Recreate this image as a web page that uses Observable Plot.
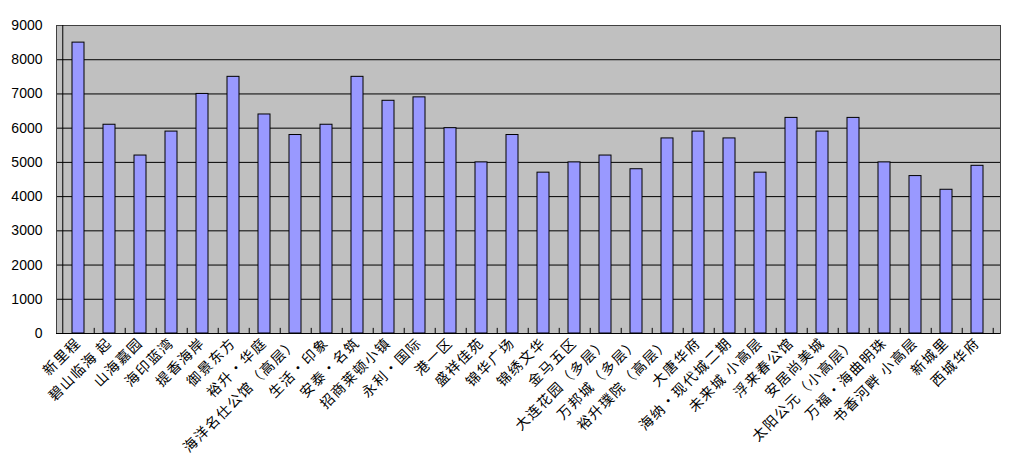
<!DOCTYPE html>
<html><head><meta charset="utf-8">
<script src="https://cdn.jsdelivr.net/npm/d3@7"></script>
<script src="https://cdn.jsdelivr.net/npm/@observablehq/plot@0.6"></script>
<style>
html,body{margin:0;padding:0;background:#fff;}
#chart svg{display:block;}
#chart g[aria-label="x-axis tick label"]{letter-spacing:1.5px;}
</style>
</head><body><div id="chart"></div>
<script>
const categories = ["新里程","碧山临海 起","山海嘉园","海印蓝湾","提香海岸","御景东方","裕升•华庭","海洋名仕公馆（高层）","生活•印象","安泰•名筑","招商莱顿小镇","永利•国际","港一区","盛祥佳苑","锦华广场","锦绣文华","金马五区","大连花园（多层）","万邦城（多层）","裕升璞院（高层）","大唐华府","海纳•现代城二期","未来城 小高层","浮来春公馆","安居尚美城","太阳公元（小高层）","万福•海曲明珠","书香河畔 小高层","新城里","西城华府"];
const values = [8500,6100,5200,5900,7000,7500,6400,5800,6100,7500,6800,6900,6000,5000,5800,4700,5000,5200,4800,5700,5900,5700,4700,6300,5900,6300,5000,4600,4200,4900];
const yTicks = [0,1000,2000,3000,4000,5000,6000,7000,8000,9000];
const gridTicks = [1000,2000,3000,4000,5000,6000,7000,8000];

const data = categories.map((c,i)=>({name:c, value:values[i]}));
const W = 1010, ML = 56, MR = 10;
const step = (W - ML - MR) / categories.length;

const chart = Plot.plot({
  width: W, height: 476,
  marginLeft: ML, marginRight: MR, marginTop: 25, marginBottom: 143,
  style: {fontFamily: "'Noto Sans CJK SC', sans-serif", background: "#fff"},
  x: {domain: categories, paddingInner: 0.6, paddingOuter: 0.3, label: null},
  y: {domain: [0, 9000], label: null},
  marks: [
    Plot.frame({fill: "#c0c0c0", stroke: "none"}),
    Plot.gridY(gridTicks, {stroke: "#000", strokeOpacity: 1, strokeWidth: 1}),
    Plot.barY(data, {x: "name", y: "value", fill: "#9999ff", stroke: "#000", strokeWidth: 1}),
    Plot.ruleX(categories, {x: d => d, dx: step/2, y1: 0, y2: 150, stroke: "#000"}),
    Plot.frame({stroke: "#404040", strokeWidth: 1}),
    Plot.ruleY([0], {stroke: "#000"}),
    Plot.ruleX([categories[0]], {x: d => d, dx: -step/2, stroke: "#000"}),
    Plot.axisY({ticks: yTicks, tickFormat: d => String(d), tickSize: 0, tickPadding: 14, fontSize: 14, fontFamily: "'Liberation Sans', sans-serif", fill: "#000"}),
    Plot.axisX({tickSize: 0, tickRotate: -45, tickPadding: 7, fontSize: 14, fill: "#000"})
  ]
});
document.getElementById("chart").appendChild(chart);
</script>
</body></html>
